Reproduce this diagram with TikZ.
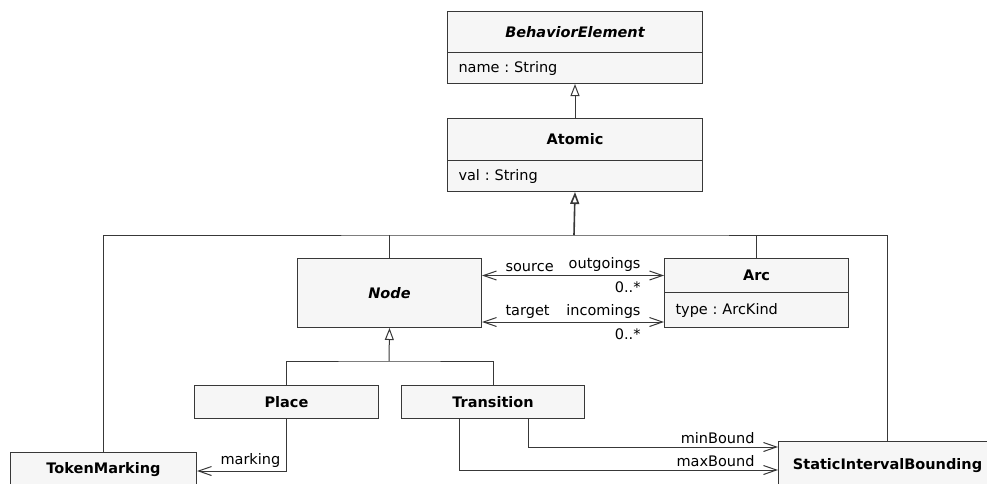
\documentclass[tikz,border=0pt]{standalone}
\usepackage{fontspec}
\setmainfont{DejaVu Sans}
\usetikzlibrary{arrows.meta}
\definecolor{boxfill}{HTML}{F6F6F6}
\definecolor{boxline}{HTML}{383838}
\newcommand\umlfont{\fontsize{14.5}{17}\selectfont\frenchspacing}
\tikzset{
  classbox/.style={draw=boxline,fill=boxfill,anchor=north west,inner sep=0pt,font=\umlfont\bfseries},
  attrbox/.style={draw=boxline,fill=boxfill,anchor=north west,inner xsep=11pt,inner ysep=0pt,align=left,font=\umlfont},
  gen/.style={-{Triangle[open,length=12pt,width=9pt]}},
  assoc/.style={-{Straight Barb[length=13pt,width=9pt]}},
  biassoc/.style={{Straight Barb[length=13pt,width=9pt]}-{Straight Barb[length=13pt,width=9pt]}},
  role/.style={inner sep=3pt,font=\umlfont}
}
\begin{document}
\begin{tikzpicture}[x=1pt,y=-1pt,line width=1pt,draw=boxline]
  \useasboundingbox (0,0) rectangle (987,483);
  \clip (0,0) rectangle (987,483);
  \node[classbox,minimum width=255,minimum height=41,font=\umlfont\bfseries\itshape] (be) at (447,11) {BehaviorElement};
  \node[attrbox,text width=233,minimum height=31] (beattr) at (447,52) {name : String};
  \node[classbox,minimum width=255,minimum height=42] (at) at (447,118) {Atomic};
  \node[attrbox,text width=233,minimum height=31] (atattr) at (447,160) {val : String};
  \node[classbox,minimum width=184,minimum height=69,font=\umlfont\bfseries\itshape] (node) at (297,258) {Node};
  \node[classbox,minimum width=184,minimum height=34] (arc) at (664,258) {Arc};
  \node[attrbox,text width=162,minimum height=35] (arcattr) at (664,292) {type : ArcKind};
  \node[classbox,minimum width=184,minimum height=33] (place) at (194,385) {Place};
  \node[classbox,minimum width=183,minimum height=33] (trans) at (401,385) {Transition};
  \node[classbox,minimum width=186,minimum height=35] (token) at (10,452) {TokenMarking};
  \node[classbox,minimum width=218,minimum height=48] (sib) at (778,441) {StaticIntervalBounding};
  \coordinate (genbar) at (574,235);
  \coordinate (nodebar) at (389,361);
  \coordinate (incend) at ([yshift=6pt]arcattr.south west);
  \draw[gen] (at.north) -- (beattr.south);
  \draw (token.north) |- (genbar) -| (sib.north);
  \draw (node.north) -- (node.north |- genbar);
  \draw (arc.north) -- (arc.north |- genbar);
  \draw[gen,line width=1.6pt] (genbar) -- (atattr.south);
  \draw (place.north) |- (nodebar) -| (trans.north);
  \draw[gen] (nodebar) -- (node.south);
  \draw[biassoc] (node.east |- arc.west) -- (arc.west)
    node[role,pos=0,anchor=south west,xshift=20] {source}
    node[role,pos=1,anchor=south east,xshift=-20] {outgoings}
    node[role,pos=1,anchor=north east,xshift=-20,yshift=-3] {0..*};
  \draw[biassoc] (node.east |- incend) -- (incend)
    node[role,pos=0,anchor=south west,xshift=20] {target}
    node[role,pos=1,anchor=south east,xshift=-20] {incomings}
    node[role,pos=1,anchor=north east,xshift=-20,yshift=-3] {0..*};
  \draw[assoc] (place.south) |- ([yshift=-1pt]token.east)
    node[role,pos=1,anchor=south west,xshift=20] {marking};
  \draw[assoc] ([xshift=35pt]trans.south) |- ([yshift=-6pt]sib.north west)
    node[role,pos=1,anchor=south east,xshift=-20] {minBound};
  \draw[assoc] ([xshift=-34pt]trans.south) |- ([yshift=-29pt]sib.north west)
    node[role,pos=1,anchor=south east,xshift=-20] {maxBound};
\end{tikzpicture}
\end{document}
